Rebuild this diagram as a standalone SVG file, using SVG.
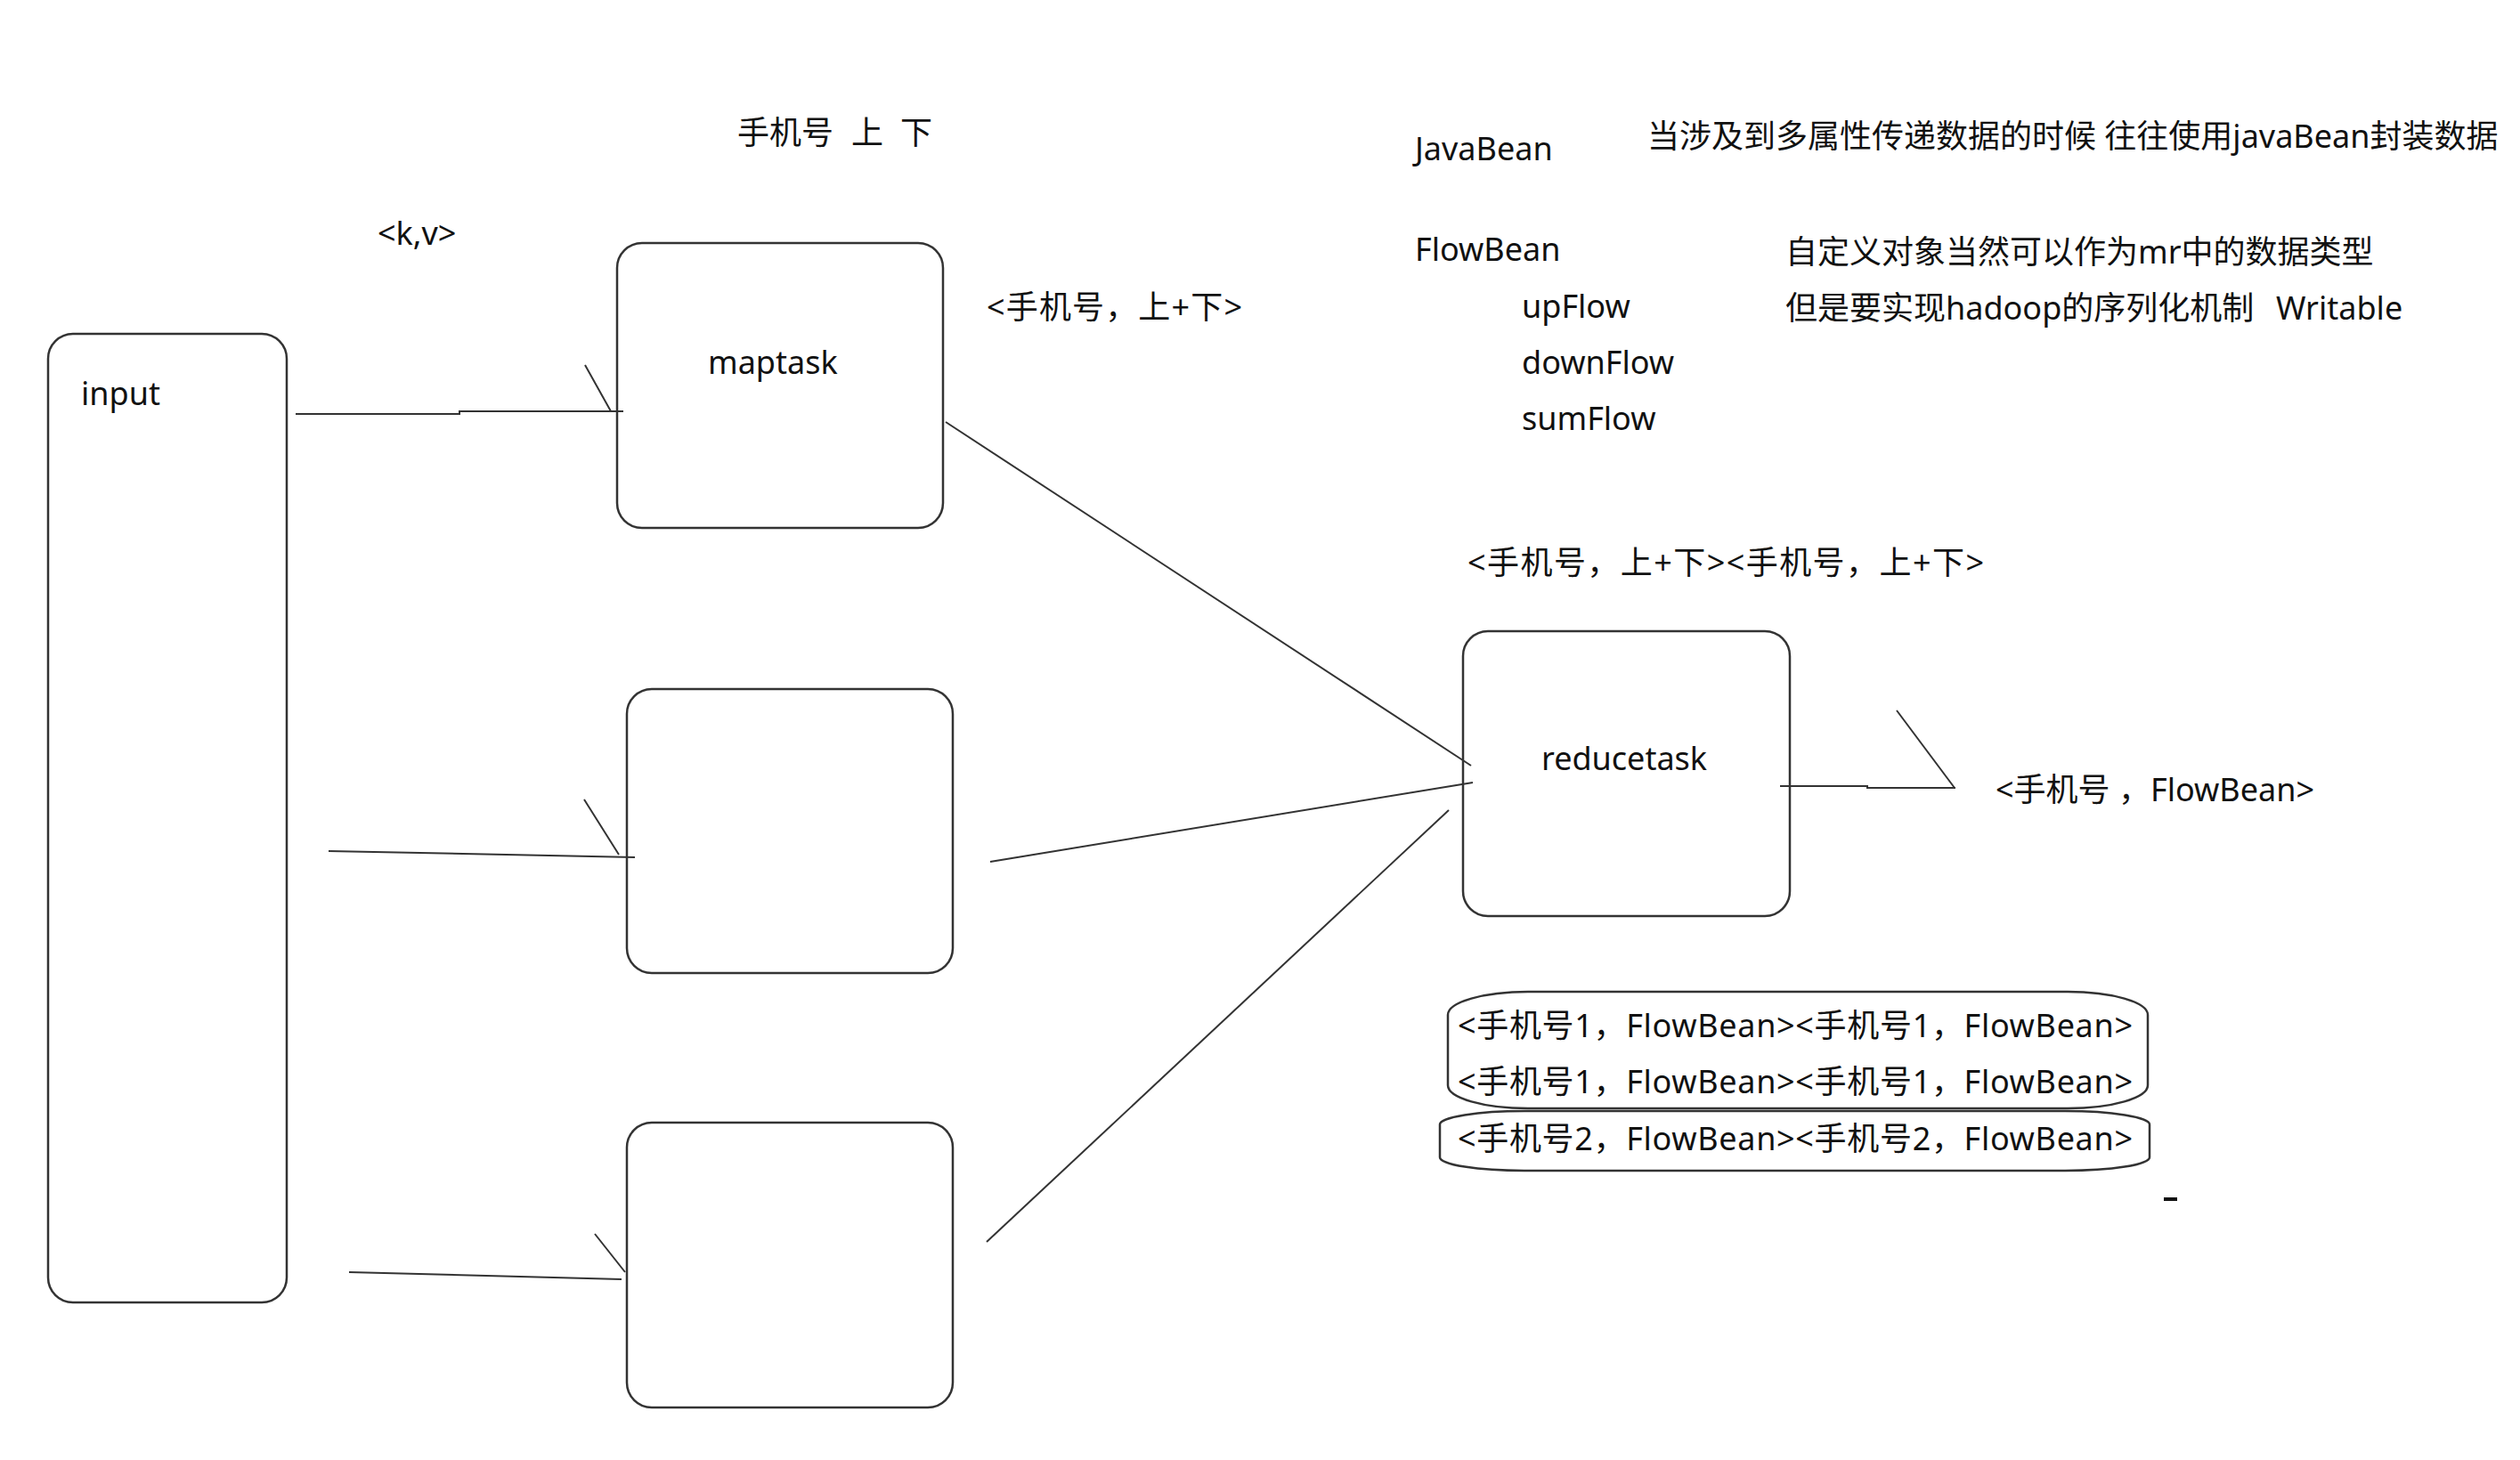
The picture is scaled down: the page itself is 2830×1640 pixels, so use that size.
<svg xmlns="http://www.w3.org/2000/svg" width="2830" height="1640" viewBox="0 0 2830 1640">
<style>
.box{fill:none;stroke:#333;stroke-width:2.5}
.ln{fill:none;stroke:#333;stroke-width:2}
text{font-family:"Noto Sans","Noto Sans CJK SC",sans-serif;font-size:36px;fill:#111}
</style>
<rect width="2830" height="1640" fill="#fff"/>
<g id="labels">
<text x="828" y="162">手机号<tspan x="956">上</tspan><tspan x="1011">下</tspan></text>
<text x="424" y="275">&lt;k,v&gt;</text>
<text x="1108" y="358" textLength="287" lengthAdjust="spacing">&lt;手机号，上+下&gt;</text>
<text x="1589" y="180">JavaBean</text>
<text x="1850" y="166">当涉及到多属性传递数据的时候 往往使用javaBean封装数据</text>
<text x="1589" y="293">FlowBean</text>
<text x="2005" y="296">自定义对象当然可以作为mr中的数据类型</text>
<text x="1709" y="357">upFlow</text>
<text x="2005" y="359">但是要实现hadoop的序列化机制<tspan x="2556">Writable</tspan></text>
<text x="1709" y="420">downFlow</text>
<text x="1709" y="483">sumFlow</text>
<text x="1648" y="645" textLength="580" lengthAdjust="spacing">&lt;手机号，上+下&gt;&lt;手机号，上+下&gt;</text>
<text x="2241" y="900">&lt;手机号 ，FlowBean&gt;</text>
</g>
<g id="input"><rect class="box" x="54" y="375" width="268" height="1088" rx="28"/><text x="91" y="455">input</text></g>
<g id="maptask"><rect class="box" x="693" y="273" width="366" height="320" rx="28"/><text x="795" y="420">maptask</text></g>
<g id="maptask2"><rect class="box" x="704" y="774" width="366" height="319" rx="28"/></g>
<g id="maptask3"><rect class="box" x="704" y="1261" width="366" height="320" rx="28"/></g>
<g id="reducetask"><rect class="box" x="1643" y="709" width="367" height="320" rx="28"/><text x="1731" y="865">reducetask</text></g>
<g id="group1"><rect class="box" x="1626" y="1114" width="786" height="131" rx="90" ry="26"/>
<text x="1637" y="1165" textLength="758" lengthAdjust="spacing">&lt;手机号1，FlowBean&gt;&lt;手机号1，FlowBean&gt;</text>
<text x="1637" y="1228" textLength="758" lengthAdjust="spacing">&lt;手机号1，FlowBean&gt;&lt;手机号1，FlowBean&gt;</text></g>
<g id="group2"><rect class="box" x="1617" y="1248" width="797" height="67" rx="95" ry="15"/>
<text x="1637" y="1292" textLength="758" lengthAdjust="spacing">&lt;手机号2，FlowBean&gt;&lt;手机号2，FlowBean&gt;</text></g>
<g id="connectors">
<path class="ln" d="M332,465 L516,465 L516,462 L700,462 M657,410 L686,462"/>
<path class="ln" d="M369,956 L713,963 M656,898 L695,960"/>
<path class="ln" d="M392,1429 L698,1437 M668,1386 L702,1429"/>
<path class="ln" d="M1062,474 L1652,860"/>
<path class="ln" d="M1112,968 L1654,879"/>
<path class="ln" d="M1108,1395 L1627,910"/>
<path class="ln" d="M1999,883 L2097,883 L2097,885 L2196,885 M2130,798 L2195,885"/>
<path d="M2430,1347 L2445,1347" stroke="#111" stroke-width="4"/>
</g>
</svg>
